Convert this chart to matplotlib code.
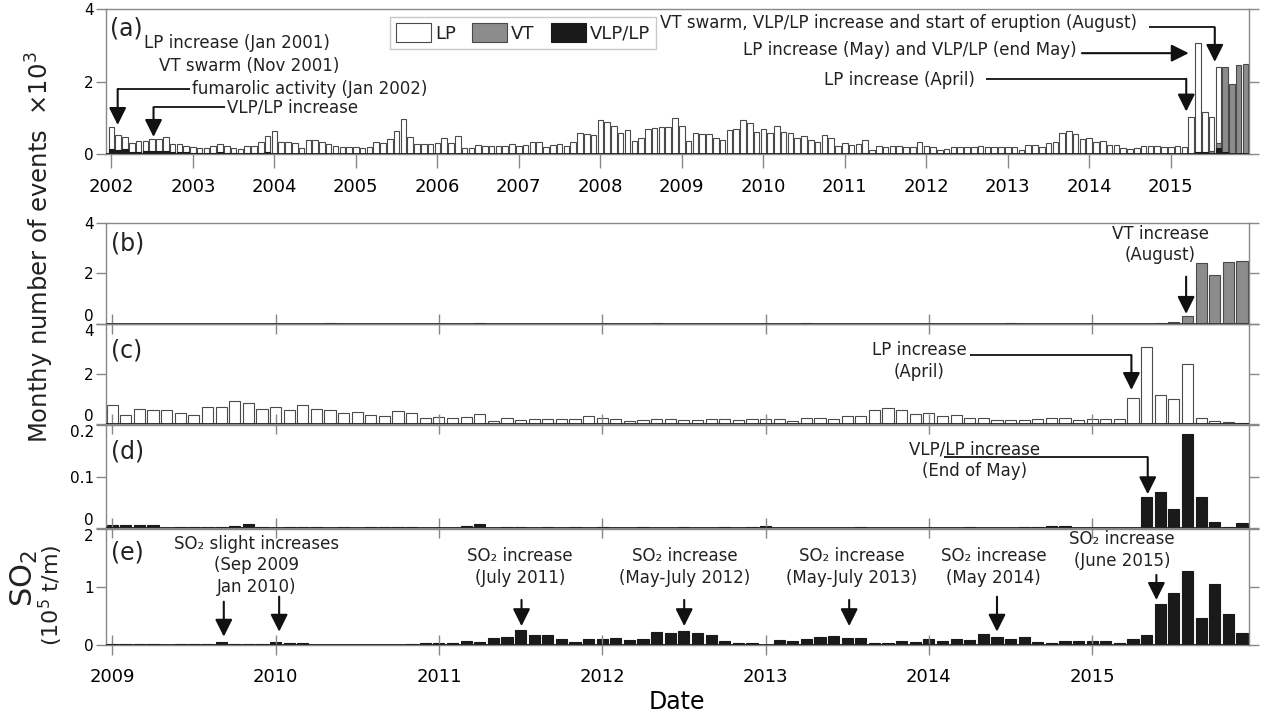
import numpy as np
import matplotlib
matplotlib.use('Agg')
import matplotlib.pyplot as plt

plt.rcParams['font.family'] = ['DejaVu Sans']
plt.rcParams['text.color'] = '#222222'

## MONTHLY DATA (x10^3 events, SO2 in 10^5 t/month)
lp_2002_2008 = [
    0.74, 0.53, 0.48, 0.32, 0.36, 0.36, 0.41, 0.41, 0.47, 0.28, 0.28, 0.23,
    0.21, 0.18, 0.17, 0.24, 0.28, 0.24, 0.18, 0.15, 0.24, 0.24, 0.35, 0.51,
    0.63, 0.35, 0.33, 0.30, 0.18, 0.40, 0.40, 0.33, 0.28, 0.24, 0.21, 0.19,
    0.20, 0.17, 0.20, 0.34, 0.30, 0.41, 0.64, 0.97, 0.49, 0.28, 0.28, 0.28,
    0.30, 0.44, 0.30, 0.50, 0.17, 0.18, 0.25, 0.24, 0.24, 0.24, 0.24, 0.29,
    0.24, 0.25, 0.34, 0.33, 0.21, 0.25, 0.29, 0.22, 0.34, 0.58, 0.55, 0.53,
    0.95, 0.88, 0.79, 0.59, 0.66, 0.37, 0.45, 0.70, 0.72, 0.76, 0.74, 0.99]
lp_2009_2015 = [
    0.77, 0.37, 0.60, 0.56, 0.56, 0.44, 0.39, 0.68, 0.70, 0.94, 0.85, 0.61,
    0.69, 0.58, 0.77, 0.61, 0.58, 0.45, 0.50, 0.39, 0.35, 0.53, 0.46, 0.24,
    0.30, 0.27, 0.29, 0.40, 0.13, 0.24, 0.19, 0.23, 0.23, 0.20, 0.20, 0.33,
    0.24, 0.21, 0.13, 0.16, 0.20, 0.21, 0.19, 0.19, 0.23, 0.21, 0.19, 0.21,
    0.21, 0.20, 0.13, 0.27, 0.27, 0.21, 0.32, 0.35, 0.59, 0.65, 0.56, 0.41,
    0.44, 0.35, 0.36, 0.27, 0.27, 0.17, 0.16, 0.17, 0.23, 0.24, 0.24, 0.19,
    0.20, 0.23, 0.20, 1.04, 3.07, 1.16, 1.02, 2.40, 0.26, 0.13, 0.08, 0.05]
vt_2002_2008 = [
    0.06, 0.04, 0.05, 0.02, 0.02, 0.02, 0.02, 0.01, 0.01, 0.01, 0.01, 0.01,
    0.01, 0, 0, 0.01, 0, 0, 0, 0, 0, 0, 0.01, 0,
    0, 0, 0, 0, 0, 0, 0, 0, 0, 0, 0, 0,
    0, 0, 0, 0, 0, 0, 0, 0, 0, 0, 0, 0,
    0, 0, 0, 0, 0, 0, 0, 0, 0, 0, 0, 0,
    0, 0, 0, 0, 0, 0, 0, 0, 0, 0, 0, 0,
    0, 0, 0, 0, 0, 0, 0, 0, 0, 0, 0, 0]
vt_2009_2015 = [
    0, 0, 0, 0, 0, 0, 0, 0, 0, 0, 0, 0,
    0, 0, 0, 0, 0.02, 0, 0, 0, 0, 0, 0, 0,
    0, 0, 0, 0.04, 0, 0, 0, 0, 0, 0, 0, 0,
    0, 0, 0, 0, 0.03, 0, 0, 0, 0, 0, 0, 0,
    0, 0, 0, 0.02, 0, 0, 0, 0, 0, 0, 0, 0,
    0, 0, 0, 0, 0, 0, 0.03, 0, 0, 0, 0, 0,
    0, 0, 0, 0, 0, 0.02, 0.08, 0.30, 2.42, 1.94, 2.46, 2.49]
vlp_2002_2008 = [
    0.15, 0.12, 0.16, 0.06, 0.07, 0.08, 0.09, 0.10, 0.09, 0.05, 0.05, 0.05,
    0.04, 0.04, 0.03, 0.04, 0.05, 0.03, 0.03, 0.02, 0.03, 0.03, 0.04, 0.05,
    0.02, 0.02, 0.02, 0.02, 0.02, 0.02, 0.02, 0.02, 0.02, 0.02, 0.02, 0.02,
    0.02, 0.02, 0.01, 0.01, 0.01, 0.01, 0.02, 0.02, 0.01, 0.01, 0.01, 0.01,
    0.01, 0.01, 0.01, 0.01, 0.01, 0.01, 0.01, 0.01, 0.01, 0.01, 0.01, 0.01,
    0.01, 0.01, 0.01, 0.01, 0.01, 0.01, 0.01, 0.01, 0.01, 0.01, 0.01, 0.01,
    0.01, 0.01, 0.01, 0.01, 0.01, 0.01, 0.01, 0.01, 0.01, 0.01, 0.01, 0.01]
vlp_2009_2015 = [
    0.006, 0.006, 0.006, 0.006, 0, 0.003, 0.003, 0.003, 0.003, 0.005, 0.009, 0.002,
    0, 0.003, 0.003, 0.003, 0, 0.002, 0, 0.003, 0.003, 0.003, 0.003, 0,
    0.001, 0, 0.004, 0.008, 0, 0.002, 0.002, 0, 0.002, 0, 0.003, 0,
    0.003, 0, 0, 0.002, 0, 0, 0.002, 0, 0, 0.003, 0, 0.002,
    0.005, 0, 0, 0, 0, 0, 0, 0.003, 0, 0, 0, 0,
    0, 0, 0, 0.002, 0, 0, 0, 0.003, 0.003, 0.005, 0.004, 0,
    0, 0, 0, 0.001, 0.060, 0.070, 0.037, 0.182, 0.061, 0.012, 0.003, 0.011]
so2_2009_2015 = [
    0.017, 0.017, 0.017, 0.017, 0.012, 0.023, 0.03, 0.03, 0.05, 0.03, 0.023, 0.017,
    0.05, 0.045, 0.045, 0.006, 0.006, 0.006, 0.006, 0.006, 0.006, 0.006, 0.03, 0.035,
    0.04, 0.035, 0.075, 0.063, 0.13, 0.15, 0.27, 0.18, 0.18, 0.11, 0.05, 0.10,
    0.10, 0.12, 0.09, 0.115, 0.23, 0.21, 0.24, 0.22, 0.17, 0.07, 0.04, 0.04,
    0.01, 0.09, 0.08, 0.10, 0.15, 0.155, 0.13, 0.125, 0.045, 0.04, 0.075, 0.06,
    0.115, 0.07, 0.10, 0.09, 0.19, 0.14, 0.115, 0.14, 0.05, 0.045, 0.07, 0.07,
    0.07, 0.07, 0.04, 0.115, 0.17, 0.71, 0.90, 1.28, 0.47, 1.06, 0.53, 0.22]

years_a = np.arange(2002, 2016)
years_e = np.arange(2009, 2016)
t_a = np.repeat(years_a, 12) + np.tile(np.arange(12), len(years_a)) / 12.0
t_e = np.repeat(years_e, 12) + np.tile(np.arange(12), len(years_e)) / 12.0

lp_all = lp_2002_2008 + lp_2009_2015
vt_all = vt_2002_2008 + vt_2009_2015
vlp_all = vlp_2002_2008 + vlp_2009_2015

WHITE, GRAY, BLACK = 'white', '#8c8c8c', '#1a1a1a'
EDGE = '#4a4a4a'
SPINE = '#888888'
BW = 0.82 / 12

fig = plt.figure(figsize=(12.62, 7.15), dpi=100)


def box(top, bottom):
    L, R = 105.7, 1249.0
    return [L / 1262, 1 - bottom / 715, (R - L) / 1262, (bottom - top) / 715]


ax_a = fig.add_axes(box(9.3, 154.3))
ax_b = fig.add_axes(box(222.7, 324))
ax_c = fig.add_axes(box(324, 424.3))
ax_d = fig.add_axes(box(425, 528.3))
ax_e = fig.add_axes(box(529, 645.3))

# (a) all event types, 2002-2015
ax_a.bar(t_a, lp_all, BW, color=WHITE, edgecolor=EDGE, lw=0.8, label='LP')
ax_a.bar(t_a, vt_all, BW, color=GRAY, edgecolor=EDGE, lw=0.8, label='VT')
ax_a.bar(t_a, vlp_all, BW, color=BLACK, edgecolor=BLACK, lw=0.8, label='VLP/LP')
ax_a.set_xlim(2001.93, 2015.96)
ax_a.set_ylim(0, 4)
ax_a.set_xticks(years_a, [str(y) for y in years_a])

ax_b.bar(t_e, vt_2009_2015, BW, color=GRAY, edgecolor=EDGE, lw=0.8)
ax_c.bar(t_e, lp_2009_2015, BW, color=WHITE, edgecolor=EDGE, lw=0.8)
ax_d.bar(t_e, vlp_2009_2015, BW, color=BLACK, edgecolor=BLACK, lw=0.8)
ax_e.bar(t_e, so2_2009_2015, BW, color=BLACK, edgecolor=BLACK, lw=0.8)

for ax in (ax_b, ax_c, ax_d, ax_e):
    ax.set_xlim(2008.96, 2015.96)
    ax.set_xticks(years_e)
    ax.tick_params(axis='x', direction='inout', length=15, width=1, color=SPINE,
                   labelsize=13, pad=9)
for ax in (ax_b, ax_c, ax_d):
    ax.set_xticklabels([])
ax_e.set_xticklabels([str(y) for y in years_e])

ax_b.set_ylim(0, 4)
ax_b.set_yticks([0, 2, 4], ['0', '2', '4'])
ax_c.set_ylim(0, 4)
ax_c.set_yticks([0, 2, 4], ['0', '2', '4'])
ax_d.set_ylim(0, 0.2)
ax_d.set_yticks([0, 0.1, 0.2], ['0', '0.1', '0.2'])
ax_e.set_ylim(0, 2)
ax_e.set_yticks([0, 1, 2], ['0', '1', '2'])
ax_a.set_yticks([0, 2, 4], ['0', '2', '4'])
ax_a.tick_params(axis='x', direction='out', length=10, width=1, color=SPINE,
                 labelsize=13, pad=7)

for ax in (ax_a, ax_b, ax_c, ax_d, ax_e):
    ax.tick_params(axis='y', direction='out', length=7, width=1, color=SPINE,
                   labelsize=11, pad=1.5, right=True)
    for s in ax.spines.values():
        s.set_color(SPINE)
        s.set_linewidth(1)
    ax.axhline(0, color='#222222', lw=1.3, zorder=5)
    ax.patch.set_alpha(0)

# labels on shared boundaries are pushed apart like in the figure
for ax in (ax_b, ax_c, ax_d):
    ax.get_yticklabels()[0].set_va('bottom')
for ax in (ax_c, ax_d, ax_e):
    ax.get_yticklabels()[-1].set_va('top')

leg = ax_a.legend(loc='upper left', bbox_to_anchor=(0.2485, 0.947), ncol=3,
                  fontsize=13, frameon=True, fancybox=False, borderaxespad=0,
                  handlelength=1.95, handleheight=1.25, handletextpad=0.2,
                  columnspacing=0.9, borderpad=0.35)
leg.get_frame().set_edgecolor('#bbbbbb')
leg.get_frame().set_linewidth(1)

AP = dict(arrowstyle='-|>,head_length=0.7,head_width=0.35', mutation_scale=15,
          color='#111111', lw=1.5, shrinkA=0, shrinkB=0)


def arrow(ax, x, y0, y1, xline=None):
    if xline is not None:
        ax.plot([xline, x], [y0, y0], color='#111111', lw=1.3, solid_capstyle='butt')
    ax.annotate('', xy=(x, y1), xytext=(x, y0), arrowprops=AP)


FS = 12
# panel a notes
ax_a.text(2001.98, 3.48, '(a)', fontsize=17, va='center')
ax_a.text(2002.395, 3.07, 'LP increase (Jan 2001)', fontsize=FS, va='center')
ax_a.text(2002.59, 2.44, 'VT swarm (Nov 2001)', fontsize=FS, va='center')
ax_a.text(2002.995, 1.80, 'fumarolic activity (Jan 2002)', fontsize=FS, va='center')
arrow(ax_a, 2002.077, 1.80, 0.81, xline=2002.96)
ax_a.text(2003.42, 1.30, 'VLP/LP increase', fontsize=FS, va='center')
arrow(ax_a, 2002.517, 1.30, 0.48, xline=2003.39)
ax_a.text(2014.59, 3.63, 'VT swarm, VLP/LP increase and start of eruption (August)',
          fontsize=FS, va='center', ha='right')
arrow(ax_a, 2015.54, 3.50, 2.55, xline=2014.73)
ax_a.text(2013.85, 2.88, 'LP increase (May) and VLP/LP (end May)', fontsize=FS,
          va='center', ha='right')
ax_a.annotate('', xy=(2015.22, 2.79), xytext=(2013.91, 2.79), arrowprops=AP)
ax_a.text(2012.59, 2.05, 'LP increase (April)', fontsize=FS, va='center', ha='right')
arrow(ax_a, 2015.19, 2.08, 1.18, xline=2012.73)

# panel b
ax_b.text(2008.99, 3.17, '(b)', fontsize=17, va='center')
ax_b.text(2015.416, 3.14, 'VT increase\n(August)', fontsize=FS, ha='center',
          va='center', linespacing=1.25)
arrow(ax_b, 2015.575, 1.87, 0.40)

# panel c
ax_c.text(2008.99, 2.96, '(c)', fontsize=17, va='center')
ax_c.text(2013.94, 2.52, 'LP increase\n(April)', fontsize=FS, ha='center',
          va='center', linespacing=1.3)
arrow(ax_c, 2015.24, 2.76, 1.37, xline=2014.25)

# panel d
ax_d.text(2008.99, 0.148, '(d)', fontsize=17, va='center')
ax_d.text(2014.28, 0.132, 'VLP/LP increase\n(End of May)', fontsize=FS,
          ha='center', va='center', linespacing=1.3)
arrow(ax_d, 2015.34, 0.1375, 0.066, xline=2014.09)

# panel e
ax_e.text(2008.99, 1.59, '(e)', fontsize=17, va='center')
ax_e.text(2009.886, 1.38, 'SO₂ slight increases\n(Sep 2009\nJan 2010)', fontsize=FS,
          ha='center', va='center', linespacing=1.25)
arrow(ax_e, 2009.683, 0.75, 0.148)
arrow(ax_e, 2010.022, 0.836, 0.234)
so2_notes = [(2011.497, 'July 2011', 2011.506),
             (2012.507, 'May-July 2012', 2012.502),
             (2013.527, 'May-July 2013', 2013.512)]
for xc, lab, xa in so2_notes:
    ax_e.text(xc, 1.35, 'SO₂ increase\n(' + lab + ')', fontsize=FS, ha='center',
              va='center', linespacing=1.3)
    arrow(ax_e, xa, 0.78, 0.33)
ax_e.text(2014.397, 1.35, 'SO₂ increase\n(May 2014)', fontsize=FS, ha='center',
          va='center', linespacing=1.3)
arrow(ax_e, 2014.417, 0.836, 0.234)
ax_e.text(2015.184, 1.64, 'SO₂ increase\n(June 2015)', fontsize=FS, ha='center',
          va='center', linespacing=1.3)
arrow(ax_e, 2015.393, 1.21, 0.78)

ax_e.set_xlabel('Date', fontsize=17, labelpad=3)

fig.text(40 / 1262, 1 - 247.5 / 715, 'Monthy number of events  $\\times10^3$',
         rotation=90, ha='center', va='center', fontsize=17.5)
fig.text(24 / 1262, 1 - 578 / 715, 'SO$_2$', rotation=90, ha='center', va='center',
         fontsize=22)
fig.text(51 / 1262, 1 - 595 / 715, '(10$^5$ t/m)', rotation=90, ha='center',
         va='center', fontsize=16)

fig.savefig('out.png', dpi=100)
